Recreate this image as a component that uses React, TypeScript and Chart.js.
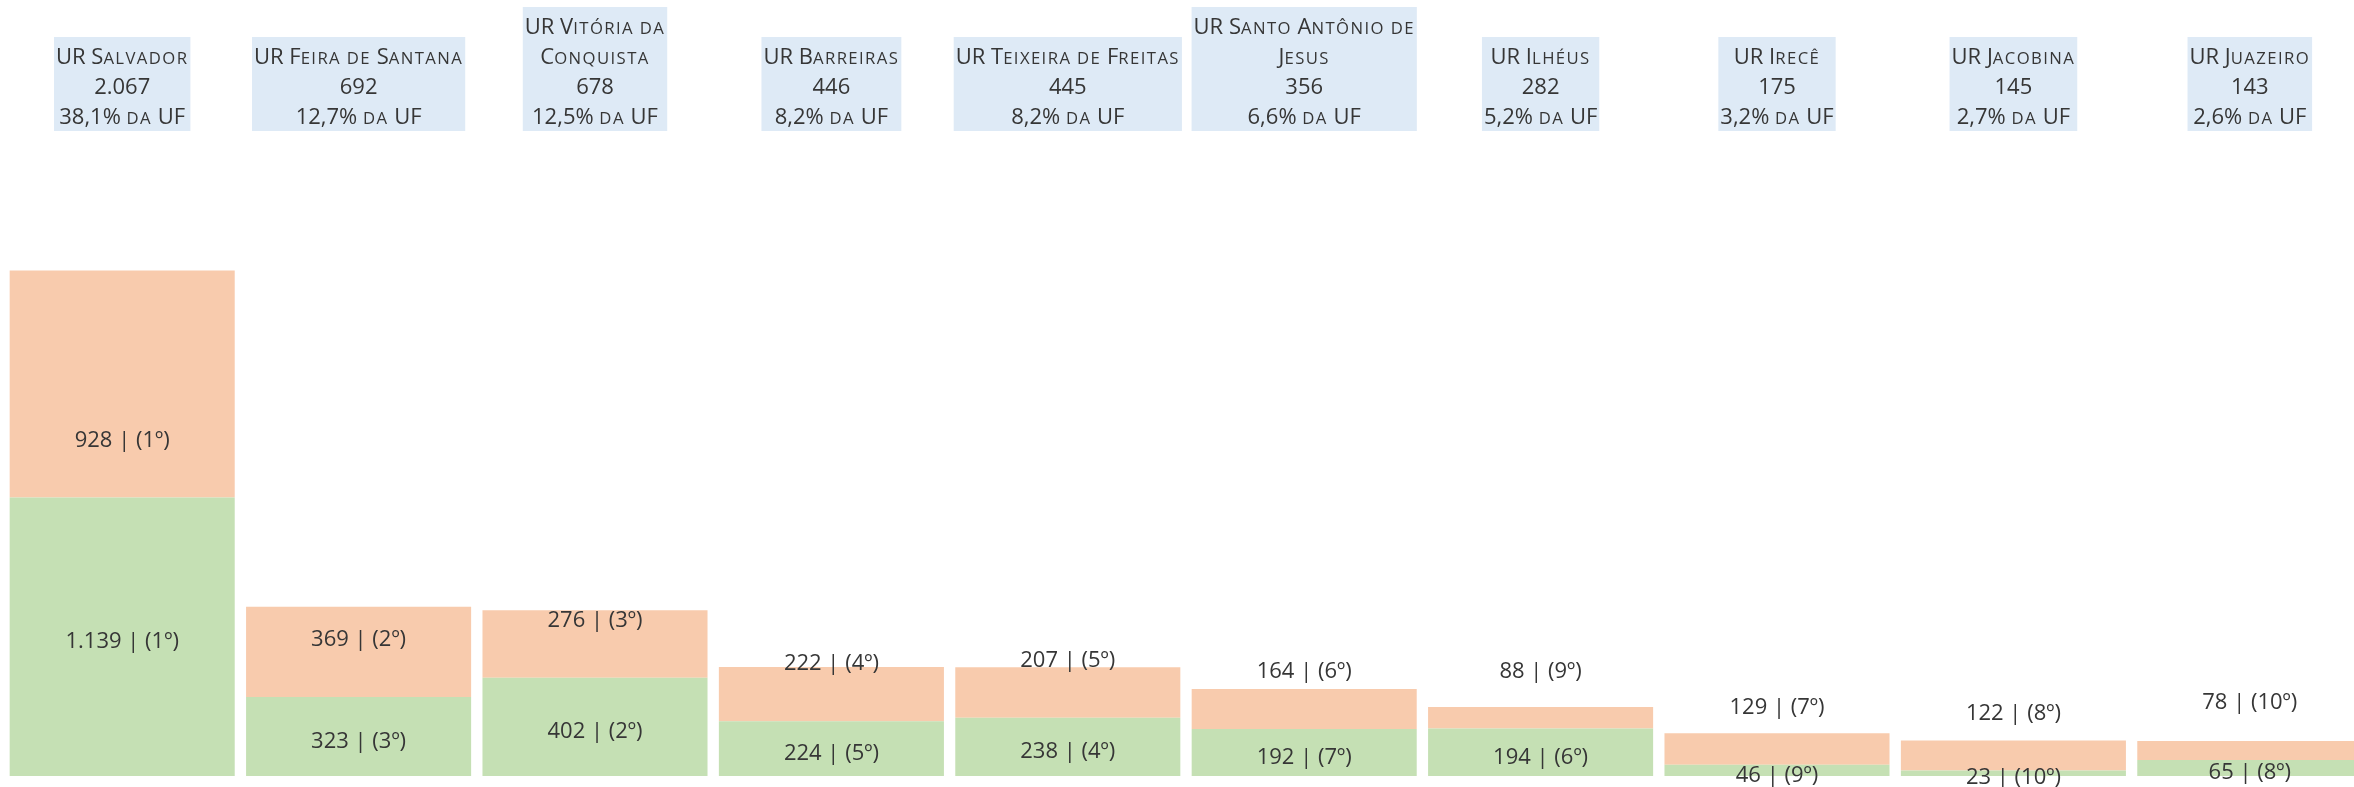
import React, { useEffect, useRef } from "react";
import { Chart, registerables } from "chart.js";

Chart.register(...registerables);

// ---- Data ----
const categories: string[][] = [
  ["UR Salvador"],
  ["UR Feira de Santana"],
  ["UR Vitória da", "Conquista"],
  ["UR Barreiras"],
  ["UR Teixeira de Freitas"],
  ["UR Santo Antônio de", "Jesus"],
  ["UR Ilhéus"],
  ["UR Irecê"],
  ["UR Jacobina"],
  ["UR Juazeiro"],
];
const greenValues = [1139, 323, 402, 224, 238, 192, 194, 46, 23, 65];
const orangeValues = [928, 369, 276, 222, 207, 164, 88, 129, 122, 78];
const shareOfUF = [38.1, 12.7, 12.5, 8.2, 8.2, 6.6, 5.2, 3.2, 2.7, 2.6];
const yMax = 3100;

// ---- Style ----
const GREEN = "#C5E0B4";
const ORANGE = "#F8CBAD";
const HEADER_BG = "#DEEAF6";
const TEXT = "#363636";
const FONT = "'Open Sans'";
const HEAD_SIZE = 22;
const SC_SCALE = 0.76;
const SC_SPACING = "1.4px";

const fmtInt = (n: number) =>
  String(n).replace(/\B(?=(\d{3})+(?!\d))/g, ".");
const fmtPct = (n: number) => n.toFixed(1).replace(".", ",") + "%";
const rankOf = (arr: number[], i: number) =>
  1 + arr.filter((v) => v > arr[i]).length;

type Run = { t: string; small: boolean };
const splitRuns = (text: string): Run[] => {
  const runs: Run[] = [];
  for (const ch of text) {
    const small = /\p{Ll}/u.test(ch);
    const last = runs[runs.length - 1];
    if (last && last.small === small) last.t += ch;
    else runs.push({ t: ch, small });
  }
  return runs;
};
const setRunFont = (ctx: any, small: boolean) => {
  ctx.font = `${small ? HEAD_SIZE * SC_SCALE : HEAD_SIZE}px ${FONT}`;
  ctx.letterSpacing = small ? SC_SPACING : "0px";
};
const measureSC = (ctx: any, text: string) => {
  let w = 0;
  for (const r of splitRuns(text)) {
    setRunFont(ctx, r.small);
    w += ctx.measureText(r.small ? r.t.toUpperCase() : r.t).width;
  }
  return w;
};
const drawSC = (ctx: any, text: string, cx: number, y: number) => {
  const total = measureSC(ctx, text);
  let x = cx - total / 2;
  ctx.textAlign = "left";
  ctx.textBaseline = "alphabetic";
  for (const r of splitRuns(text)) {
    setRunFont(ctx, r.small);
    const s = r.small ? r.t.toUpperCase() : r.t;
    ctx.fillText(s, x, y);
    x += ctx.measureText(s).width;
  }
  ctx.letterSpacing = "0px";
};

const labelPlugin = {
  id: "segLabels",
  afterDatasetsDraw(chart: any) {
    const ctx: CanvasRenderingContext2D = chart.ctx;
    const mGreen = chart.getDatasetMeta(0);
    ctx.save();
    ctx.font = `22px ${FONT}`;
    ctx.fillStyle = TEXT;
    ctx.textAlign = "center";
    ctx.textBaseline = "middle";
    mGreen.data.forEach((bar: any, i: number) => {
      const p = bar.getProps(["x", "y", "base"], true);
      const gTxt = `${fmtInt(greenValues[i])} | (${rankOf(greenValues, i)}º)`;
      ctx.fillText(gTxt, p.x, (p.y + p.base) / 2 + 5);
      const oTxt = `${fmtInt(orangeValues[i])} | (${rankOf(orangeValues, i)}º)`;
      ctx.fillText(oTxt, p.x, p.y - 57);
    });
    ctx.restore();
  },
};

const headerPlugin = {
  id: "headers",
  afterDraw(chart: any) {
    const ctx: any = chart.ctx;
    const xs = chart.scales.x;
    ctx.save();
    const lineH = 30;
    const lastBase = 124;
    const boxBottom = 131;
    categories.forEach((lines, i) => {
      const total = greenValues[i] + orangeValues[i];
      const all = [...lines, fmtInt(total), `${fmtPct(shareOfUF[i])} da UF`];
      const cx = xs.getPixelForValue(i);
      const w = Math.max(...all.map((t) => measureSC(ctx, t))) + 4;
      const top = lastBase - (all.length - 1) * lineH - 27;
      ctx.fillStyle = HEADER_BG;
      ctx.fillRect(cx - w / 2, top, w, boxBottom - top);
      ctx.fillStyle = TEXT;
      all.forEach((t, k) => {
        drawSC(ctx, t, cx, lastBase - (all.length - 1 - k) * lineH);
      });
    });
    ctx.restore();
  },
};

export default function App() {
  const ref = useRef<HTMLCanvasElement>(null);
  useEffect(() => {
    if (!ref.current) return;
    const chart = new Chart(ref.current, {
      type: "bar",
      data: {
        labels: categories.map((l) => l.join(" ")),
        datasets: [
          {
            label: "green",
            data: greenValues,
            backgroundColor: GREEN,
            categoryPercentage: 1,
            barPercentage: 0.952,
          },
          {
            label: "orange",
            data: orangeValues,
            backgroundColor: ORANGE,
            categoryPercentage: 1,
            barPercentage: 0.952,
          },
        ],
      },
      options: {
        animation: false,
        responsive: false,
        devicePixelRatio: 1,
        layout: { padding: { left: 4, right: 4, top: 18, bottom: 11 } },
        plugins: {
          legend: { display: false },
          tooltip: { enabled: false },
        },
        scales: {
          x: { stacked: true, display: false },
          y: { stacked: true, display: false, min: 0, max: yMax },
        },
      },
      plugins: [labelPlugin, headerPlugin],
    });
    return () => chart.destroy();
  }, []);
  return (
    <div
      style={{
        position: "fixed",
        left: 0,
        top: 0,
        width: "100vw",
        height: "100vh",
        overflow: "hidden",
        background: "#fff",
      }}
    >
      <canvas ref={ref} width={2372} height={787} style={{ display: "block" }} />
    </div>
  );
}
